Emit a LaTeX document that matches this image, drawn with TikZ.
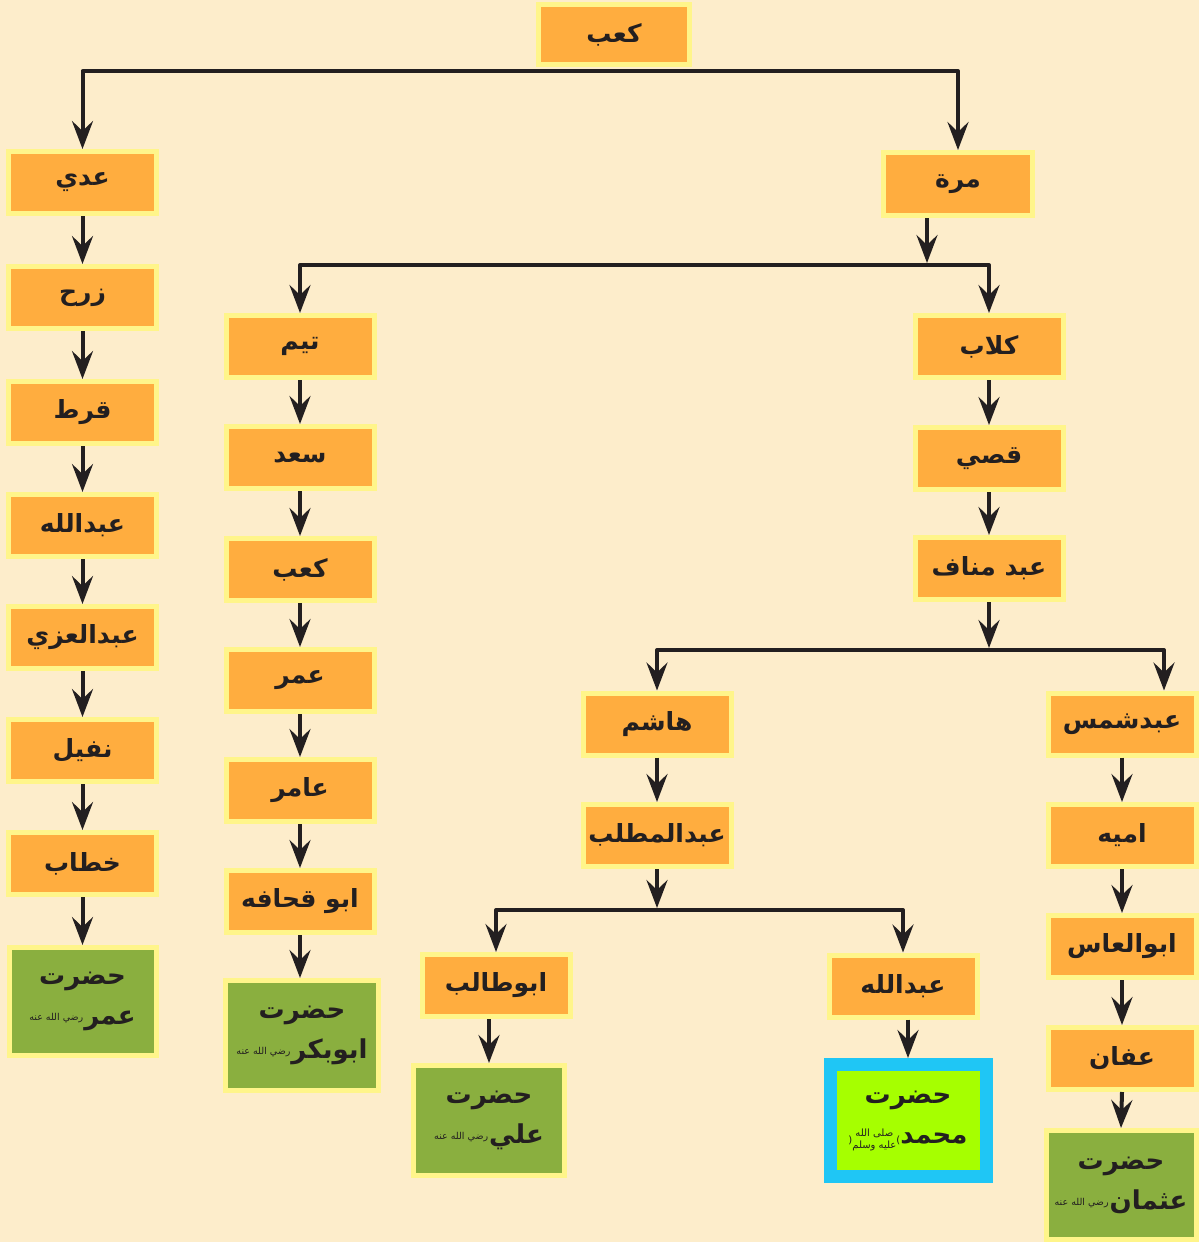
\documentclass[tikz,border=0pt]{standalone}
\usepackage{fontspec}
\usetikzlibrary{arrows.meta,calc}
\TeXXeTstate=1
\newfontfamily\arabicfont[Script=Arabic]{DejaVu Sans}
\newcommand\artx[1]{\beginR #1\endR}
\definecolor{bg}{HTML}{FDEDCB}
\definecolor{lc}{HTML}{231F20}
\definecolor{org}{HTML}{FFAD3F}
\definecolor{ylw}{HTML}{FFF58A}
\definecolor{grn}{HTML}{8AAF3F}
\definecolor{lime}{HTML}{A6FF00}
\definecolor{cyn}{HTML}{1FC6F5}
\tikzset{
  obox/.style={fill=org, draw=ylw, line width=5pt, minimum width=148pt, minimum height=62pt,
    inner sep=1pt, text=lc, font=\arabicfont\bfseries\fontsize{25}{30}\selectfont},
  gbox/.style={fill=grn, draw=ylw, line width=5pt, minimum width=147pt, minimum height=108pt,
    inner sep=1pt, align=center, text=lc, font=\arabicfont\bfseries\fontsize{26}{40}\selectfont},
  mbox/.style={fill=lime, draw=cyn, line width=13pt, minimum width=156pt, minimum height=112pt,
    inner sep=1pt, align=center, text=lc, font=\arabicfont\bfseries\fontsize{26}{40}\selectfont},
  conn/.style={draw=lc, line width=4pt, line join=round}
}
\newcommand\honr{\raisebox{4pt}{\fontsize{9.5}{10}\selectfont\mdseries\artx{رضي الله عنه}}\kern1pt}
\newcommand\sallam{{\fontsize{10}{10}\selectfont\mdseries(\raisebox{-5pt}{\shortstack{\artx{صلى الله}\\\artx{عليه وسلم}}})}}
\begin{document}
\begin{tikzpicture}[x=1pt,y=-1pt,>={Stealth[length=28pt,width=21pt,inset=10pt]}]
\path[use as bounding box, fill=bg] (0,0) rectangle (1199,1242);
% top
\node[obox, minimum width=151pt, minimum height=60pt] (kaab) at (614,34.5) {\artx{كعب}};
% left column
\node[obox] (adi) at (82.5,182.5) {\artx{عدي}};
\node[obox] (zarh) at (82.5,297.5) {\artx{زرح}};
\node[obox] (qurt) at (82.5,412.5) {\artx{قرط}};
\node[obox] (abda) at (82.5,525.5) {\artx{عبدالله}};
\node[obox] (uzza) at (82.5,637.5) {\artx{عبدالعزي}};
\node[obox] (nufayl) at (82.5,750.5) {\artx{نفيل}};
\node[obox] (khattab) at (82.5,863.5) {\artx{خطاب}};
\node[gbox] (umar) at (82.5,1001.5) {\artx{حضرت}\\\honr\artx{عمر}};
% murra
\node[obox, minimum width=149pt, minimum height=63pt] (murra) at (958,184) {\artx{مرة}};
% second column
\node[obox] (taym) at (300,346.5) {\artx{تيم}};
\node[obox] (saad) at (300,457.5) {\artx{سعد}};
\node[obox] (kaabb) at (300,569.5) {\artx{كعب}};
\node[obox] (amr) at (300,680.5) {\artx{عمر}};
\node[obox] (amir) at (300,790.5) {\artx{عامر}};
\node[obox] (quhafa) at (300,901.5) {\artx{ابو قحافه}};
\node[gbox, minimum width=153pt, minimum height=110pt] (abubakr) at (302,1035.5) {\artx{حضرت}\\\honr\artx{ابوبكر}};
% right branch
\node[obox] (kilab) at (989,346.5) {\artx{كلاب}};
\node[obox] (qusay) at (989,458.5) {\artx{قصي}};
\node[obox] (manaf) at (989,568.5) {\artx{عبد مناف}};
\node[obox] (hashim) at (657,724) {\artx{هاشم}};
\node[obox] (mutt) at (657,835.5) {\artx{عبدالمطلب}};
\node[obox] (shams) at (1122,724) {\artx{عبدشمس}};
\node[obox] (umayya) at (1122,835.5) {\artx{اميه}};
\node[obox] (aas) at (1122,946.5) {\artx{ابوالعاس}};
\node[obox] (affan) at (1122,1058.5) {\artx{عفان}};
\node[gbox, minimum width=150pt, minimum height=109pt] (uthman) at (1121,1185) {\artx{حضرت}\\\honr\artx{عثمان}};
\node[obox] (abutalib) at (496,985.5) {\artx{ابوطالب}};
\node[gbox, minimum width=151pt, minimum height=110pt] (ali) at (489,1120.5) {\artx{حضرت}\\\honr\artx{علي}};
\node[obox] (abdb) at (903,986) {\artx{عبدالله}};
\node[mbox] (muh) at (908,1120.5) {\artx{حضرت}\\\sallam\artx{محمد}};
% connectors
\coordinate (c1) at (614,71);
\draw[conn,<->] (adi.north) |- (c1) -| (murra.north);
\draw[conn,->] (adi.south) -- (zarh.north);
\draw[conn,->] (zarh.south) -- (qurt.north);
\draw[conn,->] (qurt.south) -- (abda.north);
\draw[conn,->] (abda.south) -- (uzza.north);
\draw[conn,->] (uzza.south) -- (nufayl.north);
\draw[conn,->] (nufayl.south) -- (khattab.north);
\draw[conn,->] (khattab.south) -- (umar.north);
\coordinate (c2) at (927,265);
\draw[conn,->] (murra.south -| c2) -- ($(c2)+(0,-2)$);
\draw[conn,<->] (taym.north) |- (c2) -| (kilab.north);
\draw[conn,->] (taym.south) -- (saad.north);
\draw[conn,->] (saad.south) -- (kaabb.north);
\draw[conn,->] (kaabb.south) -- (amr.north);
\draw[conn,->] (amr.south) -- (amir.north);
\draw[conn,->] (amir.south) -- (quhafa.north);
\draw[conn,->] (quhafa.south) -- (quhafa.south |- abubakr.north);
\draw[conn,->] (kilab.south) -- (qusay.north);
\draw[conn,->] (qusay.south) -- (manaf.north);
\coordinate (c3) at (989,650);
\coordinate (c3b) at (1164,650);
\draw[conn,->] (manaf.south) -- ($(c3)+(0,-2)$);
\draw[conn,<->] (hashim.north) |- (c3) -- (c3b) -- (c3b |- shams.north);
\draw[conn,->] (hashim.south) -- (mutt.north);
\coordinate (c4) at (657,910);
\draw[conn,->] (mutt.south) -- ($(c4)+(0,-2)$);
\draw[conn,<->] (abutalib.north) |- (c4) -| (abdb.north);
\draw[conn,->] (ali.north |- abutalib.south) -- (ali.north);
\draw[conn,->] (muh.north |- abdb.south) -- (muh.north);
\draw[conn,->] (shams.south) -- (umayya.north);
\draw[conn,->] (umayya.south) -- (aas.north);
\draw[conn,->] (aas.south) -- (affan.north);
\draw[conn,->] (affan.south) -- (uthman.north);
\end{tikzpicture}
\end{document}
